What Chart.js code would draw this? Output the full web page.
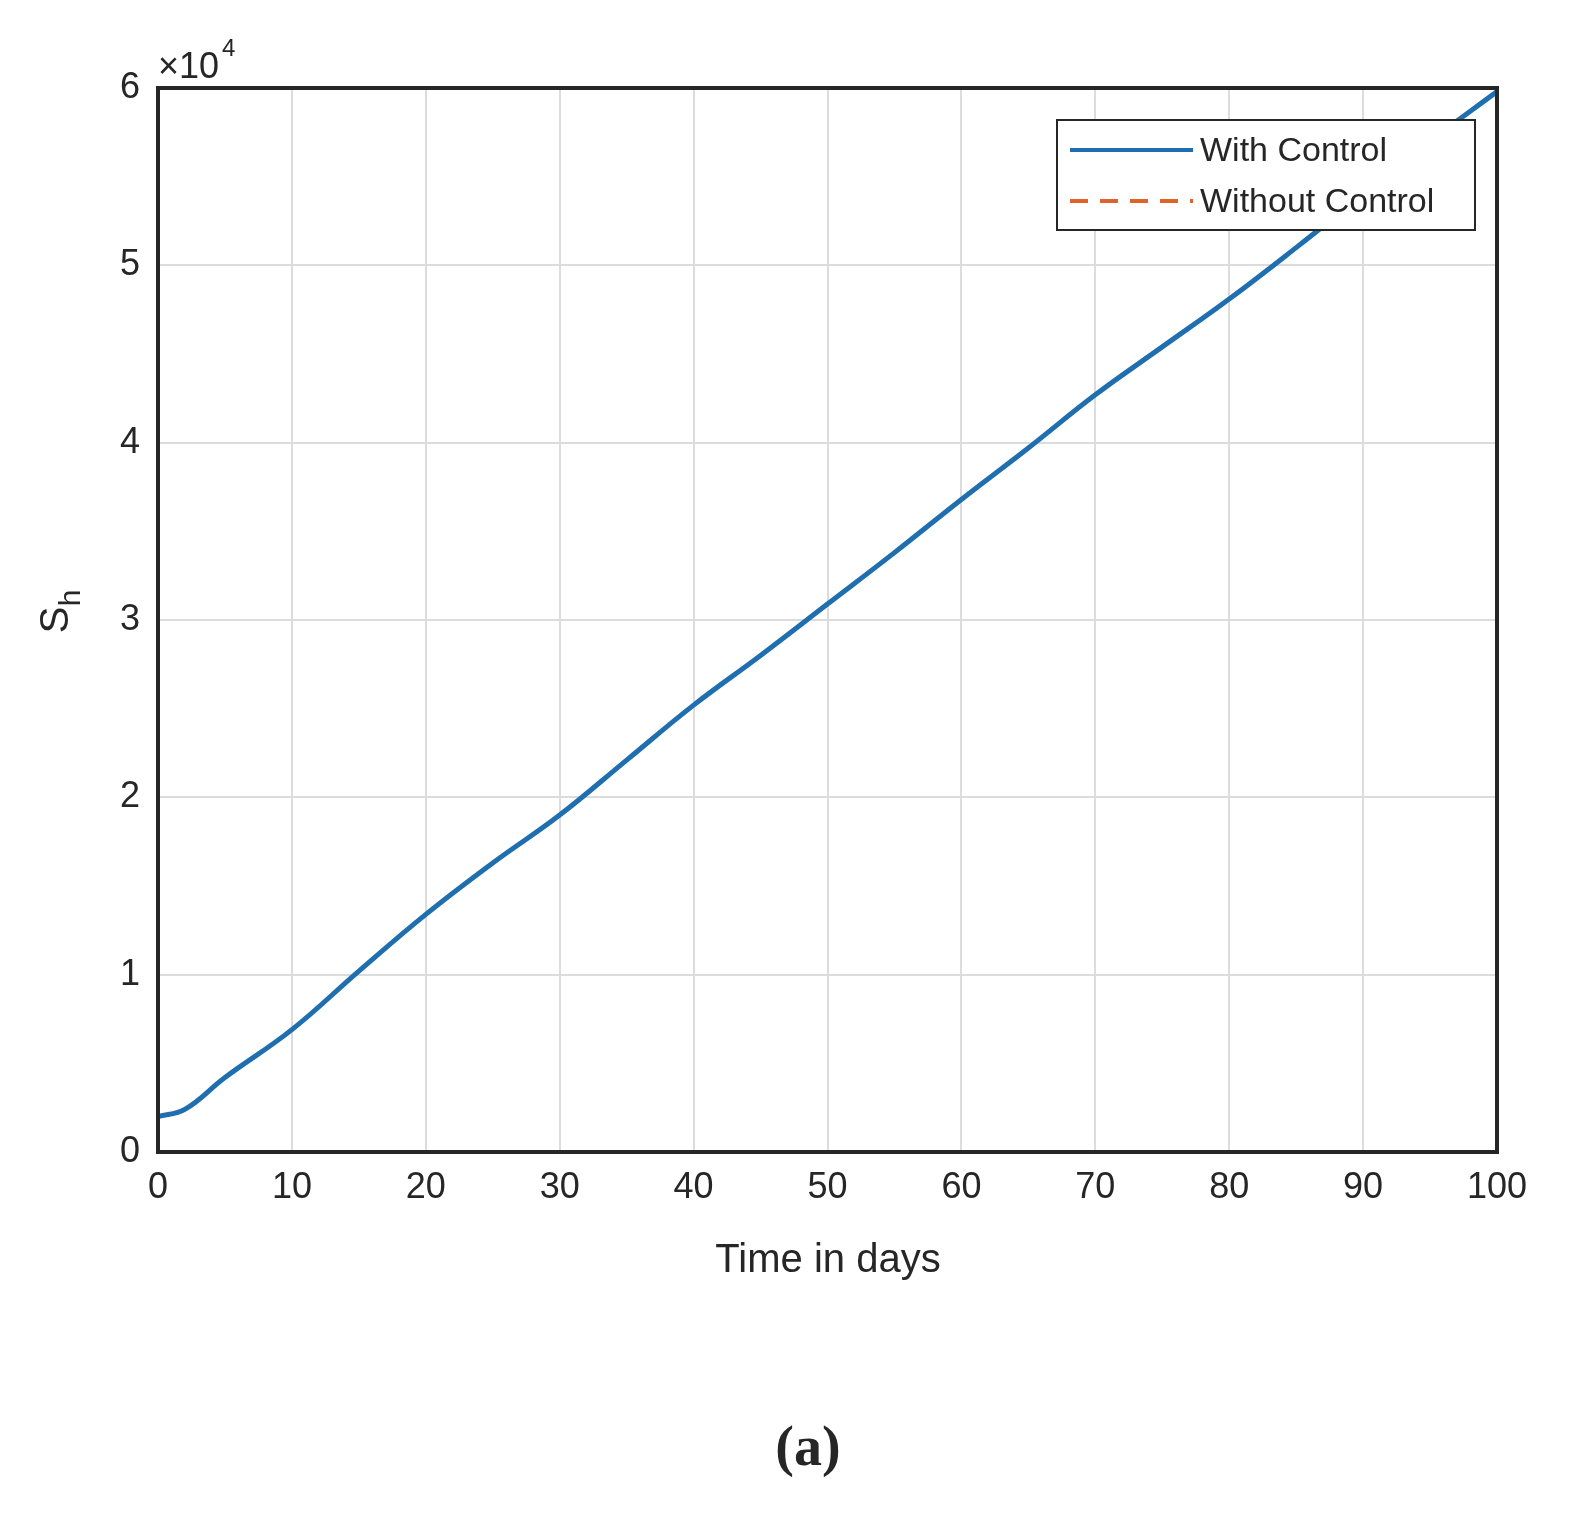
<!DOCTYPE html>
<html><head><meta charset="utf-8">
<script src="https://cdn.jsdelivr.net/npm/chart.js@4"></script>
<style>html,body{margin:0;padding:0;background:#fff}#w{width:1579px;height:1527px;position:relative}</style>
</head><body><div id="w"><canvas id="c" width="1579" height="1527"></canvas></div>
<script>
const days=[0,2,5,10,15,20,25,30,35,40,45,50,55,60,65,70,75,80,85,90,95,100];
const withControl=[2000,2400,4200,6900,10200,13400,16300,19000,22100,25200,28000,30900,33800,36800,39700,42700,45400,48100,51000,54000,57000,59800];
const withoutControl=withControl.slice();
const xTicks=[0,10,20,30,40,50,60,70,80,90,100];
const yTicks=[0,1,2,3,4,5,6];
const L=158,R=1497,T=88,B=1152;
const deco={id:'deco',afterDraw(ch){const c=ch.ctx,a=ch.chartArea;c.save();
c.strokeStyle='#262626';c.lineWidth=4;c.strokeRect(a.left,a.top,a.right-a.left,a.bottom-a.top);
c.fillStyle='#262626';c.font='36px Arial, "Liberation Sans"';c.textAlign='left';c.textBaseline='alphabetic';
c.fillText('×10',158,78);c.font='24px Arial';c.fillText('4',222,56);
c.font='40px Arial';c.textAlign='center';c.fillText('Time in days',828,1272);
c.save();c.translate(68,620);c.rotate(-Math.PI/2);c.font='40px Arial';c.fillText('S',0,0);c.font='30px Arial';c.fillText('h',22,12);c.restore();
c.font='bold 56px "Liberation Serif", serif';c.fillText('(a)',808,1465);
c.fillStyle='#fff';c.fillRect(1057,120,418,110);c.strokeStyle='#262626';c.lineWidth=2;c.strokeRect(1057,120,418,110);
c.lineWidth=4;c.strokeStyle='#1f6fb0';c.beginPath();c.moveTo(1070,150);c.lineTo(1193,150);c.stroke();
c.strokeStyle='#e0642a';c.setLineDash([18,12]);c.beginPath();c.moveTo(1070,201);c.lineTo(1193,201);c.stroke();c.setLineDash([]);
c.fillStyle='#262626';c.font='34px Arial';c.textAlign='left';c.textBaseline='middle';c.fillText('With Control',1200,152);c.fillText('Without Control',1200,203);
c.restore();}};
new Chart(document.getElementById('c'),{type:'line',
data:{datasets:[
{label:'With Control',data:days.map((d,i)=>({x:d,y:withControl[i]/1e4})),borderColor:'#1f6fb0',borderWidth:5,pointRadius:0,tension:0.4},
{label:'Without Control',data:days.map((d,i)=>({x:d,y:withoutControl[i]/1e4})),borderColor:'#e0642a',borderWidth:3,borderDash:[14,10],pointRadius:0,tension:0.4}]},
options:{responsive:false,animation:false,devicePixelRatio:1,
layout:{padding:{top:T,right:1579-R,left:0,bottom:0}},
plugins:{legend:{display:false},tooltip:{enabled:false}},
scales:{
x:{type:'linear',min:0,max:100,afterBuildTicks:s=>{s.ticks=xTicks.map(v=>({value:v}))},afterFit:s=>{s.height=1527-B},
grid:{color:'#dcdcdc',lineWidth:2,tickLength:0},border:{display:false},
ticks:{color:'#262626',font:{size:36,family:'Arial'},padding:14,maxRotation:0}},
y:{min:0,max:6,afterBuildTicks:s=>{s.ticks=yTicks.map(v=>({value:v}))},afterFit:s=>{s.width=L},
grid:{color:'#dcdcdc',lineWidth:2,tickLength:0},border:{display:false},
ticks:{color:'#262626',font:{size:36,family:'Arial'},padding:18}}}},
plugins:[deco]});
</script>
</body></html>
